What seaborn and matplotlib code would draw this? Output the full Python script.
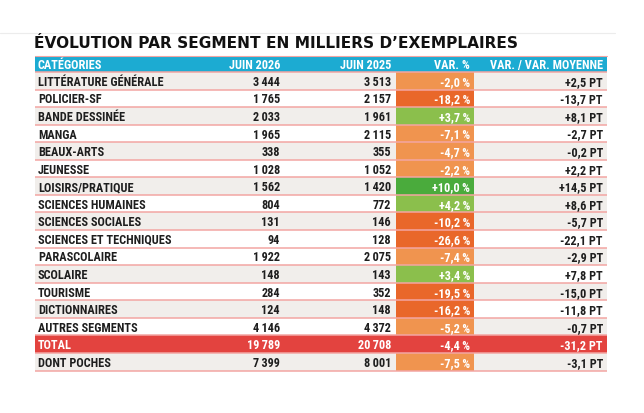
import numpy as np
import matplotlib
matplotlib.use("Agg")
import matplotlib.pyplot as plt
from matplotlib import font_manager
import seaborn as sns

# -----------------------------
# Data (milliers d'exemplaires)
# -----------------------------
categories = ["LITTÉRATURE GÉNÉRALE", "POLICIER-SF", "BANDE DESSINÉE", "MANGA",
              "BEAUX-ARTS", "JEUNESSE", "LOISIRS/PRATIQUE", "SCIENCES HUMAINES",
              "SCIENCES SOCIALES", "SCIENCES ET TECHNIQUES", "PARASCOLAIRE",
              "SCOLAIRE", "TOURISME", "DICTIONNAIRES", "AUTRES SEGMENTS",
              "TOTAL", "DONT POCHES"]
juin_2026 = [3444, 1765, 2033, 1965, 338, 1028, 1562, 804, 131, 94, 1922,
             148, 284, 124, 4146, 19789, 7399]
juin_2025 = [3513, 2157, 1961, 2115, 355, 1052, 1420, 772, 146, 128, 2075,
             143, 352, 148, 4372, 20708, 8001]
var_pct = [-2.0, -18.2, 3.7, -7.1, -4.7, -2.2, 10.0, 4.2, -10.2, -26.6, -7.4,
           3.4, -19.5, -16.2, -5.2, -4.4, -7.5]
var_moy = [2.5, -13.7, 8.1, -2.7, -0.2, 2.2, 14.5, 8.6, -5.7, -22.1, -2.9,
           7.8, -15.0, -11.8, -0.7, -31.2, -3.1]
headers = ["CATÉGORIES", "JUIN 2026", "JUIN 2025", "VAR. %", "VAR. / VAR. MOYENNE"]
title = "ÉVOLUTION PAR SEGMENT EN MILLIERS D’EXEMPLAIRES"

# row shading as seen in the print (left part / last column)
shade_left = [1, 0, 1, 0, 1, 0, 1, 0, 1, 0, 0, 1, 0, 1, 0, 0, 1]
shade_right = [1, 0, 1, 0, 1, 0, 1, 1, 1, 0, 1, 0, 1, 0, 1, 0, 1]
total_idx = categories.index("TOTAL")

# -----------------------------
# Style
# -----------------------------
sns.set_theme(style="white")
installed = {f.name for f in font_manager.fontManager.ttflist}
body_font = next((f for f in ["Liberation Sans Narrow", "Roboto Condensed",
                              "DejaVu Sans Condensed", "Roboto"] if f in installed),
                 "DejaVu Sans")
plt.rcParams["font.family"] = [body_font, "DejaVu Sans"]

BLUE = "#1cabd2"
RED = "#e3433f"
SHADE = "#f1eeeb"
LINE = "#f3a5a3"
TXT = "#1e1e1e"
FS = 8.8


def var_color(v):
    if v >= 10:
        return "#4aab3c"
    if v > 0:
        return "#8bbf4c"
    if v > -10:
        return "#f0944f"
    return "#e9672a"


def fmt_int(n):
    return f"{n:,}".replace(",", "\u2009")


def fmt_dec(v):
    return f"{v:+.1f}".replace(".", ",")


# -----------------------------
# Layout (pixel coordinates)
# -----------------------------
W, H = 644, 414
x_left, x_right = 35, 607
x_var0, x_var1 = 396, 474
head_top, row0, pitch = 56.5, 73.0, 17.56
n = len(categories)

fig = plt.figure(figsize=(W / 100, H / 100), dpi=100)
ax = fig.add_axes([0, 0, 1, 1])
ax.set_xlim(0, W)
ax.set_ylim(H, 0)
ax.axis("off")

# faint rule above title
ax.plot([0, 615], [34, 34], color="#ececec", lw=0.8)
ax.text(x_left - 1, 48.5, title, fontsize=11.05, fontweight="bold",
        family=["DejaVu Sans"], color="#111111", va="baseline")

# header
ax.barh(head_top + (row0 - head_top) / 2, x_right - x_left, left=x_left,
        height=row0 - head_top, color=BLUE, linewidth=0)
hy = head_top + (row0 - head_top) / 2 + 0.5
hx = [38, 280, 391, 470, 603]
for i, h in enumerate(headers):
    ax.text(hx[i], hy, h, color="white", fontsize=FS, fontweight="bold",
            ha="left" if i == 0 else "right", va="center")

ys = row0 + pitch * (np.arange(n) + 0.5)
for i in range(n):
    y = ys[i]
    is_total = i == total_idx
    if is_total:
        ax.barh(y, x_right - x_left, left=x_left, height=pitch, color=RED, linewidth=0)
    else:
        if shade_left[i]:
            ax.barh(y, x_var0 - x_left, left=x_left, height=pitch, color=SHADE, linewidth=0)
        if shade_right[i]:
            ax.barh(y, x_right - x_var1, left=x_var1, height=pitch, color=SHADE, linewidth=0)
        ax.barh(y, x_var1 - x_var0, left=x_var0, height=pitch,
                color=var_color(var_pct[i]), linewidth=0)
    c = "white" if is_total else TXT
    ty = y + 0.6
    ax.text(38, ty, categories[i], color=c, fontsize=FS, fontweight="bold", va="center")
    ax.text(280, ty, fmt_int(juin_2026[i]), color=c, fontsize=FS, fontweight="bold",
            ha="right", va="center")
    ax.text(391, ty, fmt_int(juin_2025[i]), color=c, fontsize=FS, fontweight="bold",
            ha="right", va="center")
    ax.text(470, ty, fmt_dec(var_pct[i]) + "\u2009%", color="white", fontsize=FS,
            fontweight="bold", ha="right", va="center")
    ax.text(603, ty, fmt_dec(var_moy[i]) + " PT", color=c, fontsize=FS,
            fontweight="bold", ha="right", va="center")

# pink separators
for k in range(n + 1):
    yb = row0 + pitch * k
    ax.plot([x_left, x_right], [yb, yb], color=LINE, lw=1.1, solid_capstyle="butt")
ax.plot([x_left, x_right], [head_top, head_top], color=LINE, lw=0.8)

fig.savefig("out.png", dpi=100)
